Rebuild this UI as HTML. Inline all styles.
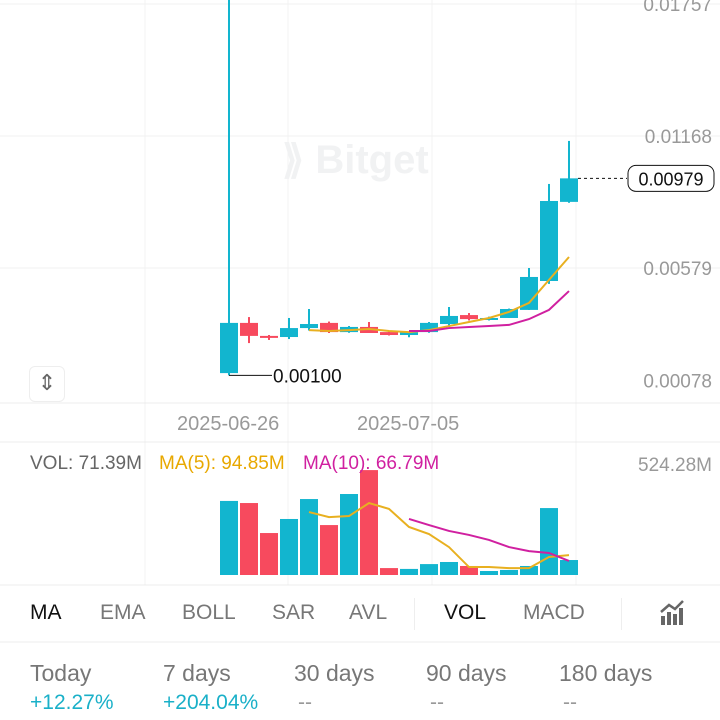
<!DOCTYPE html>
<html><head><meta charset="utf-8"><style>
body{margin:0;width:720px;height:720px;background:#fff;font-family:"Liberation Sans",sans-serif;overflow:hidden;position:relative}
.abs{position:absolute}
.tab{position:absolute;top:601px;font-size:21px;color:#777}
.st{position:absolute;top:660px;font-size:23px;color:#777}
.pc{position:absolute;top:691px;font-size:21px;color:#999}
.lg{position:absolute;top:453px;font-size:19px}
</style></head><body>
<svg class="abs" style="left:0;top:0" width="720" height="720">
<g id="grid"></g>
<text x="282" y="173" font-size="40" font-weight="bold" fill="#f1f2f3">⟫ Bitget</text>
<g id="candles"></g>
<g id="vol"></g>
<g id="lines"></g>
<g id="axis"></g>
</svg>
<div class="abs" style="left:29px;top:366px;width:34px;height:34px;border:1px solid #eee;border-radius:6px;text-align:center;line-height:32px;font-size:22px;color:#666">⇕</div>
<div class="abs" style="left:177px;top:413px;font-size:20px;color:#999">2025-06-26</div>
<div class="abs" style="left:357px;top:413px;font-size:20px;color:#999">2025-07-05</div>
<div class="lg" style="left:30px;color:#666">VOL: 71.39M</div>
<div class="lg" style="left:159px;color:#e8a800">MA(5): 94.85M</div>
<div class="lg" style="left:303px;color:#d020a0">MA(10): 66.79M</div>
<div class="abs" style="right:8px;top:455px;font-size:19px;color:#999">524.28M</div>
<div class="tab" style="left:30px;color:#111">MA</div>
<div class="tab" style="left:100px">EMA</div>
<div class="tab" style="left:182px">BOLL</div>
<div class="tab" style="left:272px">SAR</div>
<div class="tab" style="left:349px">AVL</div>
<div class="tab" style="left:444px;color:#111">VOL</div>
<div class="tab" style="left:523px">MACD</div>
<div class="abs" style="left:414px;top:598px;width:1px;height:32px;background:#eee"></div>
<div class="abs" style="left:621px;top:598px;width:1px;height:32px;background:#eee"></div>
<svg class="abs" style="left:659px;top:600px" width="26" height="26"><rect x="2" y="16" width="4" height="9" fill="#666"/><rect x="8" y="12" width="4" height="13" fill="#666"/><rect x="14" y="14" width="4" height="11" fill="#666"/><rect x="20" y="8" width="4" height="17" fill="#666"/><polyline points="2,12 10,5 16,9 24,1" fill="none" stroke="#666" stroke-width="2.5"/></svg>
<div class="st" style="left:30px">Today</div>
<div class="st" style="left:163px">7 days</div>
<div class="st" style="left:294px">30 days</div>
<div class="st" style="left:426px">90 days</div>
<div class="st" style="left:559px">180 days</div>
<div class="pc" style="left:30px;color:#1ab0c8">+12.27%</div>
<div class="pc" style="left:163px;color:#1ab0c8">+204.04%</div>
<div class="pc" style="left:298px">--</div>
<div class="pc" style="left:430px">--</div>
<div class="pc" style="left:563px">--</div>
<script>
const opens=[0.00110,0.00334,0.00276,0.00271,0.00311,0.00334,0.00293,0.00316,0.00293,0.00280,0.00293,0.00329,0.00369,0.00351,0.00356,0.00392,0.00521,0.00874];
const highs=[0.01780,0.00360,0.00280,0.00356,0.00396,0.00340,0.00320,0.00338,0.00295,0.00293,0.00338,0.00405,0.00378,0.00362,0.00398,0.00579,0.00954,0.01146];
const lows=[0.00100,0.00244,0.00258,0.00262,0.00300,0.00289,0.00290,0.00289,0.00278,0.00270,0.00290,0.00316,0.00345,0.00345,0.00356,0.00392,0.00508,0.00870];
const closes=[0.00334,0.00276,0.00271,0.00311,0.00329,0.00293,0.00316,0.00289,0.00280,0.00293,0.00334,0.00365,0.00351,0.00356,0.00396,0.00539,0.00878,0.00979];
const priceMa5=[null,null,null,null,0.00302,0.00298,0.00302,0.00307,0.00298,0.00293,0.00302,0.00320,0.00338,0.00356,0.00383,0.00423,0.00526,0.00628];
const priceMa10=[null,null,null,null,null,null,null,null,null,0.00298,0.00298,0.00311,0.00316,0.00320,0.00325,0.00351,0.00392,0.00476];
const volumes=[353,343,200,267,362,238,386,500,33,29,52,62,43,19,24,43,319,71.39];
const volMa5=[null,null,null,null,300,276,281,343,315,229,195,133,38,38,33,33,86,94.85];
const volMa10=[null,null,null,null,null,null,null,null,null,267,238,210,191,167,133,114,105,66.79];
const priceTicks=[0.01757,0.01168,0.00579,0.00078];
const NS='http://www.w3.org/2000/svg';
const px=i=>229+i*20;
const py=v=>268-(v-0.00579)*22411;
const vy=v=>575-v*110/524.28;
function mk(t,a,p){const e=document.createElementNS(NS,t);for(const k in a)e.setAttribute(k,a[k]);p.appendChild(e);return e;}
const G=document.getElementById('grid');
[145,288,432,576].forEach(x=>mk('line',{x1:x,x2:x,y1:0,y2:585,stroke:'#f3f3f3'},G));
priceTicks.slice(0,3).forEach(v=>mk('line',{x1:0,x2:720,y1:py(v),y2:py(v),stroke:'#f1f1f1'},G));
[403,442,585,642].forEach(y=>mk('line',{x1:0,x2:720,y1:y,y2:y,stroke:'#ececec'},G));
const A=document.getElementById('axis');
priceTicks.forEach((v,i)=>{const t=mk('text',{x:712,y:py(v)+7,'font-size':19,fill:'#999','text-anchor':'end'},A);t.textContent=v.toFixed(5);

});
const C=document.getElementById('candles');
closes.forEach((c,i)=>{const o=opens[i],up=c>=o,col=up?'#12b5cf':'#f74a5e',x=px(i);
mk('line',{x1:x,x2:x,y1:py(highs[i]),y2:py(lows[i]),stroke:col,'stroke-width':2},C);
const top=py(Math.max(o,c)),bot=py(Math.min(o,c));
const r=mk('rect',{x:x-9,y:top,width:18,height:Math.max(2,bot-top),fill:col},C);

});
const li=0,ly=py(lows[li]);
mk('line',{x1:px(li),x2:272,y1:ly,y2:ly,stroke:'#111'},C);
const lt=mk('text',{x:273,y:ly+7,'font-size':19,fill:'#111'},C);lt.textContent=lows[li].toFixed(5);


const last=closes.length-1,cy=py(closes[last]);
mk('line',{x1:px(last)+9,x2:627,y1:cy,y2:cy,stroke:'#111','stroke-dasharray':'3,3'},C);
const lb=mk('rect',{x:628,y:cy-13,width:86,height:26,rx:8,fill:'#fff',stroke:'#111'},C);


const lpt=mk('text',{x:671,y:cy+7,'font-size':18,fill:'#111','text-anchor':'middle'},C);lpt.textContent=closes[last].toFixed(5);
const V=document.getElementById('vol');
volumes.forEach((v,i)=>{const col=closes[i]>=opens[i]?'#12b5cf':'#f74a5e';
const r=mk('rect',{x:px(i)-9,y:vy(v),width:18,height:575-vy(v),fill:col},V);

});
const L=document.getElementById('lines');
function line(arr,yf,col,name){const p=[];arr.forEach((v,i)=>{if(v!=null)p.push(px(i)+','+yf(v));});
const e=mk('polyline',{points:p.join(' '),fill:'none',stroke:col,'stroke-width':2},L);

}
line(priceMa5,py,'#e8b020','price-ma5-line');
line(priceMa10,py,'#d020a0','price-ma10-line');
line(volMa5,vy,'#e8b020','vol-ma5-line');
line(volMa10,vy,'#d020a0','vol-ma10-line');
</script>
</body></html>
